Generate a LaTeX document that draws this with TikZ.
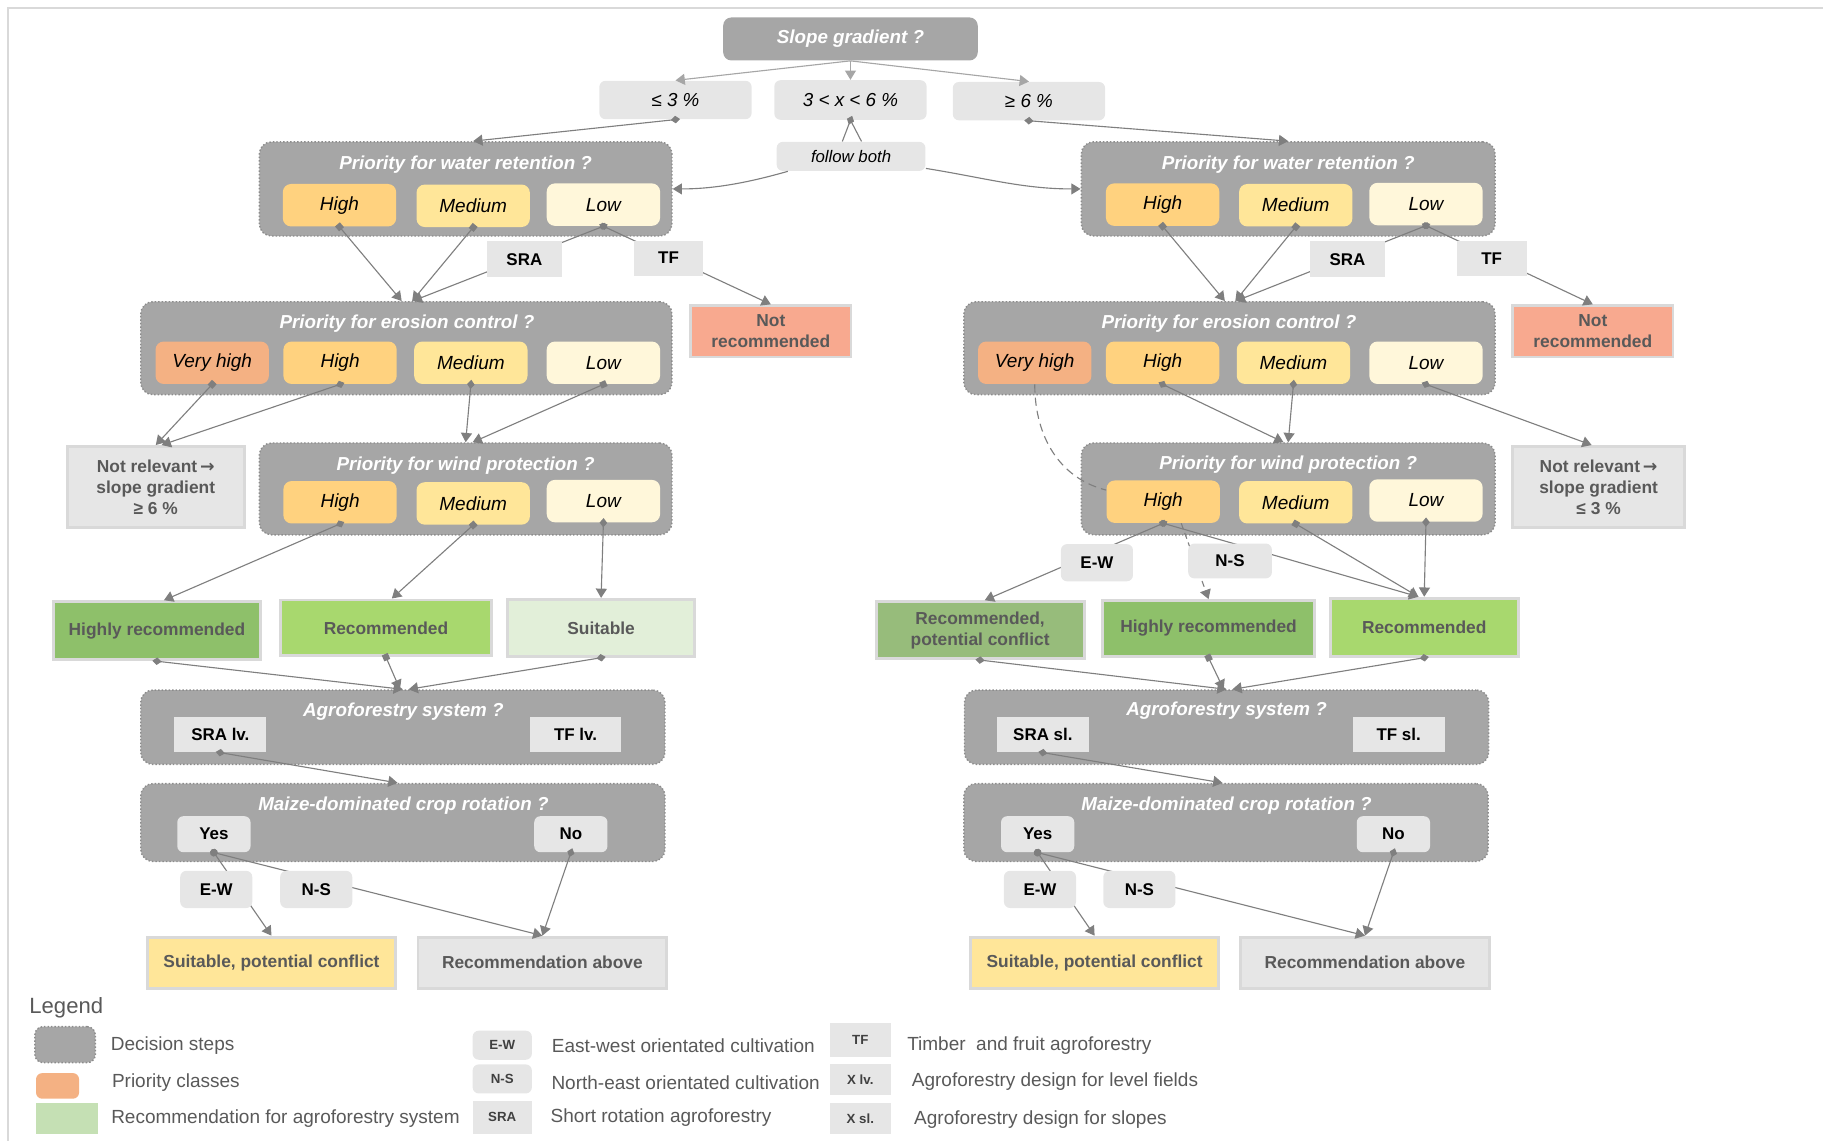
\documentclass[tikz,border=0pt]{standalone}
\usepackage{fontspec}
\setmainfont{Liberation Sans}
\newfontfamily\arrowfont{DejaVu Sans}
\usepackage{tikz}
\usetikzlibrary{positioning, arrows.meta}
\definecolor{dec-gray}{HTML}{A6A6A6}
\definecolor{dec-line}{HTML}{8C8C8C}
\definecolor{opt-gray}{HTML}{E6E6E6}
\definecolor{frame-gray}{HTML}{D9D9D9}
\definecolor{arr-gray}{HTML}{7F7F7F}
\definecolor{arr-light}{HTML}{A6A6A6}
\definecolor{prio-vhigh}{HTML}{F4B183}
\definecolor{prio-high}{HTML}{FFD27F}
\definecolor{prio-med}{HTML}{FFE699}
\definecolor{prio-low}{HTML}{FFF7DA}
\definecolor{not-rec}{HTML}{F8A98F}
\definecolor{rec-high}{HTML}{8EC06A}
\definecolor{rec-mid}{HTML}{A8D86E}
\definecolor{rec-low}{HTML}{E2EFD9}
\definecolor{rec-conf}{HTML}{97BC7B}
\definecolor{rec-spc}{HTML}{FFE699}
\definecolor{leg-green}{HTML}{C5E0B4}
\definecolor{txt-gray}{HTML}{595959}

\begin{document}
\begin{tikzpicture}[x=0.02cm, y=-0.02cm]
	\tikzset{dec/.style={fill=dec-gray, draw=dec-line, densely dotted, line width=.7pt, rounded corners=6pt, inner sep=0pt}}
	\tikzset{dectitle/.style={text=white, inner sep=0pt, font=\fontsize{9.2}{11}\selectfont\bfseries\itshape}}
	\tikzset{prio/.style={rounded corners=4pt, minimum width=1.95cm, minimum height=.73cm, inner sep=0pt, font=\fontsize{9.3}{11}\selectfont\itshape}}
	\tikzset{opt/.style={fill=opt-gray, rounded corners=3pt, minimum width=2.62cm, minimum height=.66cm, inner sep=0pt, font=\fontsize{9.2}{11}\selectfont\itshape}}
	\tikzset{tag/.style={fill=opt-gray, minimum width=1.3cm, minimum height=.62cm, inner sep=0pt, font=\fontsize{8.3}{10}\selectfont\bfseries}}
	\tikzset{tagr/.style={tag, rounded corners=3pt, minimum width=1.24cm, minimum height=.64cm}}
	\tikzset{rec/.style={draw=frame-gray, line width=1.4pt, inner sep=0pt, align=center, text=txt-gray, font=\fontsize{8.5}{10.2}\selectfont\bfseries}}
	\tikzset{arr/.style={draw=arr-gray, line width=.55pt, -{Triangle[length=1.6mm, width=1.9mm]}}}
	\tikzset{dia/.style={arr, {Diamond[length=1.6mm, width=1.3mm]}-{Triangle[length=1.6mm, width=1.9mm]}, shorten <=-.8mm}}
	\tikzset{dian/.style={draw=arr-gray, line width=.55pt, {Diamond[length=1.6mm, width=1.3mm]}-, shorten <=-.8mm}}
	\tikzset{sq/.style={arr, {Square[length=1.1mm, width=1.1mm]}-{Triangle[length=1.6mm, width=1.9mm]}, shorten <=-.55mm}}
	\tikzset{rnd/.style={arr, {Circle[length=1.3mm]}-{Triangle[length=1.6mm, width=1.9mm]}, shorten <=-.65mm}}
	\tikzset{legtxt/.style={inner sep=0pt, text=txt-gray, font=\fontsize{9.3}{11}\selectfont}}
	\tikzset{legtag/.style={fill=opt-gray, minimum width=1.02cm, minimum height=.5cm, inner sep=0pt, text=black!75, font=\fontsize{6.5}{8}\selectfont\bfseries}}

	\useasboundingbox (0,0) rectangle (1568,981);
	\draw[frame-gray, line width=1.1pt] (7,981) -- (7,7) -- (1568,7);

	\node[dectitle, fill=dec-gray, rounded corners=4pt, minimum width=4.38cm, minimum height=.74cm] (slope) at (731.5,33.5) {Slope gradient ?};
	\node[opt] (le3) at (581,86) {≤ 3 \%};
	\node[opt, minimum height=.68cm] (mid) at (731.5,86) {3 < x < 6 \%};
	\node[opt] (ge6) at (885,87) {≥ 6 \%};
	\node[opt, minimum width=2.56cm, minimum height=.5cm, font=\fontsize{8.2}{10}\selectfont\itshape] (fb) at (732,134.5) {follow both};

	\node[dec, minimum width=7.1cm, minimum height=1.62cm] (wl) at (400.5,162.5) {};
	\node[dectitle] (wlT) at (400.5,142) {Priority for water retention ?};
	\node[prio, fill=prio-high] (wlH) at (292,176.5) {High};
	\node[prio, fill=prio-med] (wlM) at (407,177) {Medium};
	\node[prio, fill=prio-low] (wlL) at (519,176) {Low};

	\node[dec, minimum width=7.12cm, minimum height=1.62cm] (wr) at (1108,162.5) {};
	\node[dectitle] (wrT) at (1108,141.5) {Priority for water retention ?};
	\node[prio, fill=prio-high] (wrH) at (1000,176) {High};
	\node[prio, fill=prio-med] (wrM) at (1114.5,176.5) {Medium};
	\node[prio, fill=prio-low] (wrL) at (1226.5,175.5) {Low};

	\node[rec, fill=not-rec, minimum width=2.76cm, minimum height=.88cm] (nrL) at (663,285) {Not\\recommended};
	\node[rec, fill=not-rec, minimum width=2.76cm, minimum height=.88cm] (nrR) at (1370,285) {Not\\recommended};

	\node[dec, minimum width=9.14cm, minimum height=1.6cm] (el) at (349.5,299.5) {};
	\node[dectitle] (elT) at (350,278) {Priority for erosion control ?};
	\node[prio, fill=prio-vhigh] (elVH) at (182.5,312) {Very high};
	\node[prio, fill=prio-high] (elH) at (292.5,312) {High};
	\node[prio, fill=prio-med] (elM) at (405,312) {Medium};
	\node[prio, fill=prio-low] (elL) at (519,312) {Low};

	\node[dec, minimum width=9.14cm, minimum height=1.6cm] (er) at (1057.5,299.5) {};
	\node[dectitle] (erT) at (1057,278) {Priority for erosion control ?};
	\node[prio, fill=prio-vhigh] (erVH) at (890,312) {Very high};
	\node[prio, fill=prio-high] (erH) at (1000,312) {High};
	\node[prio, fill=prio-med] (erM) at (1112.5,312) {Medium};
	\node[prio, fill=prio-low] (erL) at (1226.5,312) {Low};

	\node[rec, fill=opt-gray, minimum width=3.04cm, minimum height=1.4cm] (nrelL) at (134,419) {Not relevant\,{\arrowfont\bfseries →}\\slope gradient\\≥ 6 \%};
	\node[rec, fill=opt-gray, minimum width=2.96cm, minimum height=1.4cm] (nrelR) at (1375,419) {Not relevant\,{\arrowfont\bfseries →}\\slope gradient\\≤ 3 \%};

	\node[dec, minimum width=7.1cm, minimum height=1.58cm] (wdl) at (400.5,420.5) {};
	\node[dectitle] (wdlT) at (400.5,400.5) {Priority for wind protection ?};
	\node[prio, fill=prio-high] (wdlH) at (292.5,432) {High};
	\node[prio, fill=prio-med] (wdlM) at (407,433) {Medium};
	\node[prio, fill=prio-low] (wdlL) at (519,431) {Low};

	\node[dec, minimum width=7.12cm, minimum height=1.58cm] (wdr) at (1108,420.5) {};
	\node[dectitle] (wdrT) at (1108,400) {Priority for wind protection ?};
	\node[prio, fill=prio-high] (wdrH) at (1000.5,431.5) {High};
	\node[prio, fill=prio-med] (wdrM) at (1114.5,432) {Medium};
	\node[prio, fill=prio-low] (wdrL) at (1226.5,430.5) {Low};

	\node[rec, fill=rec-high, minimum width=3.56cm, minimum height=1cm] (hrL) at (135,542.5) {Highly recommended};
	\node[rec, fill=rec-mid, minimum width=3.64cm, minimum height=.96cm] (recL) at (332,540) {Recommended};
	\node[rec, fill=rec-low, minimum width=3.22cm, minimum height=.98cm] (suitL) at (517,540) {Suitable};
	\node[rec, fill=rec-conf, minimum width=3.58cm, minimum height=.98cm] (rpcR) at (843,542) {Recommended,\\potential conflict};
	\node[rec, fill=rec-high, minimum width=3.64cm, minimum height=.96cm] (hrR) at (1039.5,540.5) {Highly recommended};
	\node[rec, fill=rec-mid, minimum width=3.24cm, minimum height=1cm] (recR) at (1225,539.5) {Recommended};

	\node[dec, minimum width=9.02cm, minimum height=1.28cm] (agL) at (346.5,625.5) {};
	\node[dectitle] (agLT) at (347,612) {Agroforestry system ?};
	\node[tag, minimum width=1.58cm, minimum height=.6cm] (sraLv) at (189.5,632) {SRA lv.};
	\node[tag, minimum width=1.58cm, minimum height=.6cm] (tfLv) at (495,632) {TF lv.};

	\node[dec, minimum width=9.02cm, minimum height=1.28cm] (agR) at (1055,625.5) {};
	\node[dectitle] (agRT) at (1055,611.5) {Agroforestry system ?};
	\node[tag, minimum width=1.58cm, minimum height=.6cm] (sraSl) at (897,632) {SRA sl.};
	\node[tag, minimum width=1.58cm, minimum height=.6cm] (tfSl) at (1203,632) {TF sl.};

	\node[dec, minimum width=9.02cm, minimum height=1.34cm] (mzL) at (346.5,707.5) {};
	\node[dectitle] (mzLT) at (347,693) {Maize-dominated crop rotation ?};
	\node[tagr, minimum width=1.26cm, minimum height=.62cm] (yesL) at (184,717.5) {Yes};
	\node[tagr, minimum width=1.26cm, minimum height=.62cm] (noL) at (491,717.5) {No};

	\node[dec, minimum width=9.02cm, minimum height=1.34cm] (mzR) at (1054.5,707.5) {};
	\node[dectitle] (mzRT) at (1055,693) {Maize-dominated crop rotation ?};
	\node[tagr, minimum width=1.26cm, minimum height=.62cm] (yesR) at (892.5,717.5) {Yes};
	\node[tagr, minimum width=1.26cm, minimum height=.62cm] (noR) at (1198.5,717.5) {No};

	\node[rec, fill=rec-spc, minimum width=4.26cm, minimum height=.88cm] (spcL) at (233.5,828) {Suitable, potential conflict};
	\node[rec, fill=opt-gray, minimum width=4.28cm, minimum height=.88cm] (raL) at (466.5,828) {Recommendation above};
	\node[rec, fill=rec-spc, minimum width=4.26cm, minimum height=.88cm] (spcR) at (941.5,828) {Suitable, potential conflict};
	\node[rec, fill=opt-gray, minimum width=4.28cm, minimum height=.88cm] (raR) at (1174,828) {Recommendation above};

	\draw[arr, draw=arr-light] (slope.south) -- (le3.north);
	\draw[arr, draw=arr-light] (slope.south) -- (mid.north);
	\draw[arr, draw=arr-light] (slope.south) -- (ge6.north);
	\draw[dia] (le3.south) -- ([xshift=.13cm]wl.north);
	\draw[dian] (mid.south) -- ([xshift=-.15cm]fb.north);
	\draw[draw=arr-gray, line width=.55pt] (mid.south) -- ([xshift=.18cm]fb.north);
	\draw[dia] (ge6.south) -- (wr.north);
	\draw[arr] ([xshift=.2cm]fb.south west) .. controls +(-35,10) and +(35,0) .. (wl.east);
	\draw[arr] ([yshift=.05cm]fb.south east) .. controls +(50,8) and +(-50,0) .. (wr.west);

	\draw[sq] (wlH.south) -- ([xshift=-.08cm]el.north);
	\draw[sq] (wlM.south) -- ([xshift=.1cm]el.north);
	\draw[dia] (wlL.south) -- ([xshift=.11cm]el.north);
	\draw[dia] (wlL.south) -- (nrL.north);
	\draw[sq] (wrH.south) -- ([xshift=-.08cm]er.north);
	\draw[sq] (wrM.south) -- ([xshift=.1cm]er.north);
	\draw[dia] (wrL.south) -- ([xshift=.11cm]er.north);
	\draw[dia] (wrL.south) -- (nrR.north);

	\draw[sq] (elVH.south) -- (nrelL.north);
	\draw[dia] (elH.south) -- ([xshift=.1cm]nrelL.north);
	\draw[dia] (elM.south) -- (wdl.north);
	\draw[sq] (elL.south) -- ([xshift=.12cm]wdl.north);
	\draw[draw=arr-gray, line width=.55pt, dash pattern=on 4pt off 2.5pt] (erVH.south) .. controls +(0,45) and +(-40,-10) .. ([yshift=.2cm]wdrH.west);
	\draw[dia] (erH.south) -- ([xshift=-.08cm]wdr.north);
	\draw[dia] (erM.south) -- (wdr.north);
	\draw[dia] (erL.south) -- ([xshift=-.12cm]nrelR.north);

	\draw[dia] (wdlH.south) -- ([xshift=.12cm]hrL.north);
	\draw[sq] (wdlM.south) -- ([xshift=.1cm]recL.north);
	\draw[dia] (wdlL.south) -- (suitL.north);
	\draw[dia] (wdrH.south) -- ([xshift=.08cm]rpcR.north);
	\draw[dia] (wdrH.south) -- ([xshift=-.1cm]recR.north);
	\draw[arr, dash pattern=on 3pt off 2pt] ([xshift=.31cm]wdrH.south) -- (hrR.north);
	\draw[sq] (wdrM.south) -- ([xshift=-.1cm]recR.north);
	\draw[dia] (wdrL.south) -- (recR.north);

	\draw[dia] (hrL.south) -- (agL.north);
	\draw[sq] (recL.south) -- ([xshift=-.05cm]agL.north);
	\draw[dia] (suitL.south) -- ([xshift=.1cm]agL.north);
	\draw[dia] (rpcR.south) -- (agR.north);
	\draw[sq] (hrR.south) -- ([xshift=-.05cm]agR.north);
	\draw[dia] (recR.south) -- ([xshift=.1cm]agR.north);

	\draw[dia] (sraLv.south) -- ([xshift=-.09cm]mzL.north);
	\draw[dia] (sraSl.south) -- ([xshift=-.06cm]mzR.north);

	\draw[rnd] (yesL.south) -- (spcL.north);
	\draw[rnd] (yesL.south) -- (raL.north);
	\draw[dia] (noL.south) -- (raL.north);
	\draw[rnd] (yesR.south) -- (spcR.north);
	\draw[rnd] (yesR.south) -- (raR.north);
	\draw[dia] (noR.south) -- (raR.north);

	\node[tag] (sraWL) at (451,223) {SRA};
	\node[tag, minimum width=1.2cm, minimum height=.6cm] (tfWL) at (575,222) {TF};
	\node[tag] (sraWR) at (1159,223) {SRA};
	\node[tag, minimum width=1.2cm, minimum height=.6cm] (tfWR) at (1283,222.5) {TF};
	\node[tagr] (ewWd) at (943.5,484) {E-W};
	\node[tagr, minimum width=1.44cm, minimum height=.6cm] (nsWd) at (1058,482.5) {N-S};
	\node[tagr] (ewL) at (186,765) {E-W};
	\node[tagr] (nsL) at (272,765) {N-S};
	\node[tagr] (ewR) at (894.5,765) {E-W};
	\node[tagr] (nsR) at (980,765) {N-S};

	\node[inner sep=0pt, text=txt-gray, font=\fontsize{10.8}{13}\selectfont] (legHead) at (57,867) {Legend};
	\node[dec, rounded corners=4pt, minimum width=1.04cm, minimum height=.62cm] (legDec) at (56,898.5) {};
	\node[legtxt, anchor=west] (legDecT) at (95,899.5) {Decision steps};
	\node[fill=prio-vhigh, rounded corners=3pt, minimum width=.74cm, minimum height=.44cm, inner sep=0pt] (legPrio) at (49.5,934) {};
	\node[legtxt, anchor=west] (legPrioT) at (96,931.5) {Priority classes};
	\node[fill=leg-green, minimum width=1.06cm, minimum height=.52cm, inner sep=0pt] (legRec) at (57.5,962) {};
	\node[legtxt, right=.22cm of legRec] (legRecT) {Recommendation for agroforestry system};
	\node[legtag, rounded corners=3pt] (legEW) at (432,899) {E-W};
	\node[legtxt, right=.33cm of legEW] (legEWT) {East-west orientated cultivation};
	\node[legtag, rounded corners=3pt] (legNS) at (432,928) {N-S};
	\node[legtxt, anchor=west] (legNST) at (474,931) {North-east orientated cultivation};
	\node[legtag, minimum height=.56cm] (legSRA) at (432,961) {SRA};
	\node[legtxt, right=.31cm of legSRA] (legSRAT) {Short rotation agroforestry};
	\node[legtag, minimum width=1.06cm, minimum height=.6cm] (legTF) at (740,894.5) {TF};
	\node[legtxt, anchor=west] (legTFT) at (780,899) {Timber\ \ and fruit agroforestry};
	\node[legtag, minimum width=1.06cm, minimum height=.52cm] (legLv) at (740,928.5) {X lv.};
	\node[legtxt, anchor=west] (legLvT) at (784,930) {Agroforestry design for level fields};
	\node[legtag, minimum width=1.06cm, minimum height=.52cm] (legSl) at (740,962) {X sl.};
	\node[legtxt, anchor=west] (legSlT) at (786,963) {Agroforestry design for slopes};
\end{tikzpicture}
\end{document}
